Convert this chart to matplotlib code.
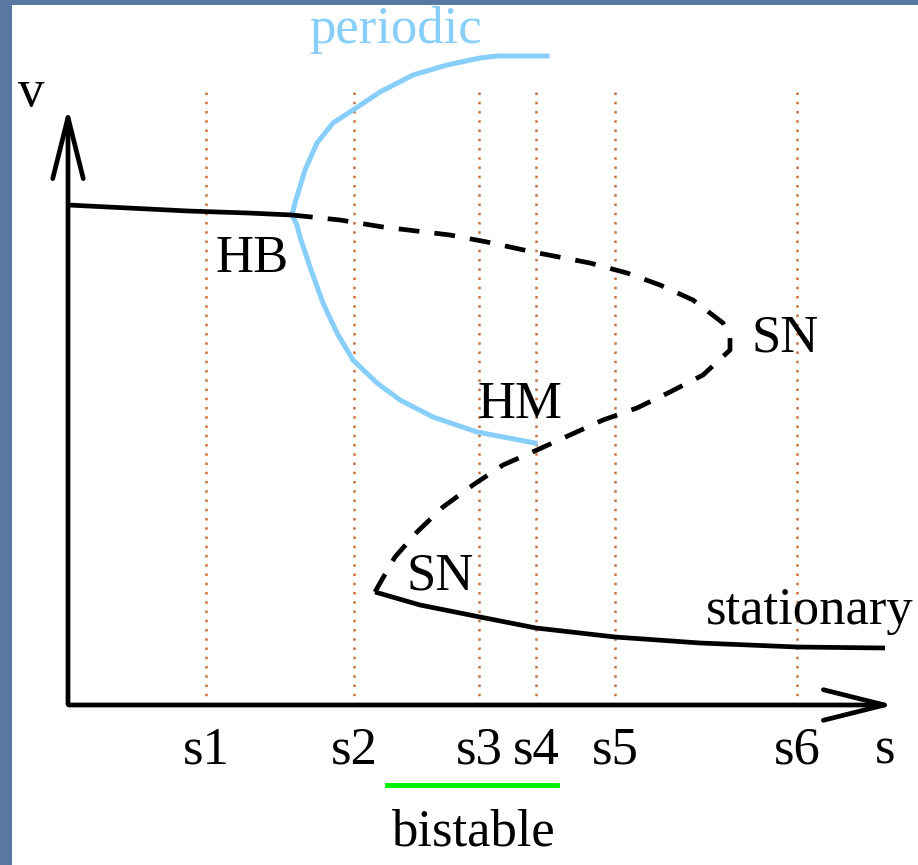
import numpy as np
import matplotlib
matplotlib.use("Agg")
from matplotlib import pyplot as plt

plt.rcParams['font.family'] = ['Liberation Serif', 'DejaVu Serif']

# parameter values of the marked cuts (s1..s6)
cortes = [138, 286, 411, 468, 547, 729]
etiquetas = ["s1", "s2", "s3", "s4", "s5", "s6"]

# stable upper branch (solid)
sup_s = [0, 60, 120, 180, 224]
sup_v = [500, 497, 494, 492, 490]

# unstable branch (dashed), from HB through the upper SN down to the lower SN
ines_s = [224, 272, 315, 382, 419, 465, 522, 559, 592, 625, 655, 662, 662, 635, 602,
          569, 535, 502, 469, 435, 405, 375, 349, 327, 312, 307]
ines_v = [490, 485, 478, 470, 463, 453, 442, 432, 420, 405, 382, 370, 355, 330, 313,
          297, 285, 270, 255, 240, 220, 198, 173, 148, 122, 113]

# stable lower branch (solid)
inf_s = [307, 352, 412, 468, 547, 632, 729, 817]
inf_v = [113, 100, 88, 77, 68, 62, 58, 57]

# periodic orbit: max and min amplitude
per_max_s = [224, 227, 237, 249, 265, 285, 312, 345, 379, 412, 429, 479]
per_max_v = [490, 502, 535, 562, 582, 595, 613, 630, 640, 647, 649, 649]
per_min_s = [224, 229, 232, 242, 255, 269, 285, 309, 332, 365, 409, 467]
per_min_v = [490, 480, 468, 438, 402, 372, 345, 322, 305, 288, 273, 262]

# bistable interval
biestable = [319, 489]

fig = plt.figure(figsize=(9.18, 8.65), dpi=100)
fig.patch.set_facecolor("#5878a2")

ax = fig.add_axes([12/918, 0, 906/918, 860/865])
ax.set_facecolor("white")
ax.set_xlim(-56, 850)
ax.set_ylim(-160, 700)
for sp in ax.spines.values():
    sp.set_visible(False)
ax.set_xticks([])
ax.set_yticks([])

# cortes punteados
for c in cortes:
    ax.plot([c, c], [0, 613], color="#c8733c", lw=1.8, linestyle=(0, (1, 2.7)), zorder=1)

# ejes con flechas
ax.annotate("", xy=(829, 0), xytext=(-2, 0),
            arrowprops=dict(arrowstyle="->,head_length=4.4,head_width=1.1", lw=3.4, color="black"))
ax.annotate("", xy=(0, 600), xytext=(0, -2),
            arrowprops=dict(arrowstyle="->,head_length=4.4,head_width=1.1", lw=3.4, color="black"))

# ramas
ax.plot(sup_s, sup_v, color="black", lw=3.4, solid_capstyle="butt", zorder=3)
ax.plot(ines_s, ines_v, color="black", lw=3.4, dashes=(4.4, 3.2), zorder=3)
ax.plot(inf_s, inf_v, color="black", lw=3.4, solid_capstyle="butt", zorder=3)
ax.plot(per_max_s, per_max_v, color="#87cefa", lw=3.6, zorder=2)
ax.plot(per_min_s, per_min_v, color="#87cefa", lw=3.6, zorder=2)

# intervalo biestable
ax.plot(biestable, [-80, -80], color="#00ee00", lw=3.5)

fs = 38
for c, e in zip(cortes, etiquetas):
    ax.text(c, -45, e, fontsize=fs, ha="center", va="center")
ax.text(817, -45, "s", fontsize=fs, ha="center", va="center")
ax.text(-37, 612, "v", fontsize=fs, ha="center", va="center")
ax.text(405, -128, "bistable", fontsize=fs, ha="center", va="center")
ax.text(327, 675, "periodic", fontsize=fs, ha="center", va="center", color="#87cefa")
ax.text(184, 446, "HB", fontsize=fs, ha="center", va="center")
ax.text(717, 366, "SN", fontsize=fs, ha="center", va="center")
ax.text(452, 300, "HM", fontsize=fs, ha="center", va="center")
ax.text(372, 128, "SN", fontsize=fs, ha="center", va="center")
ax.text(742, 94, "stationary", fontsize=fs, ha="center", va="center")

fig.savefig("out.png", dpi=100, facecolor=fig.get_facecolor())
